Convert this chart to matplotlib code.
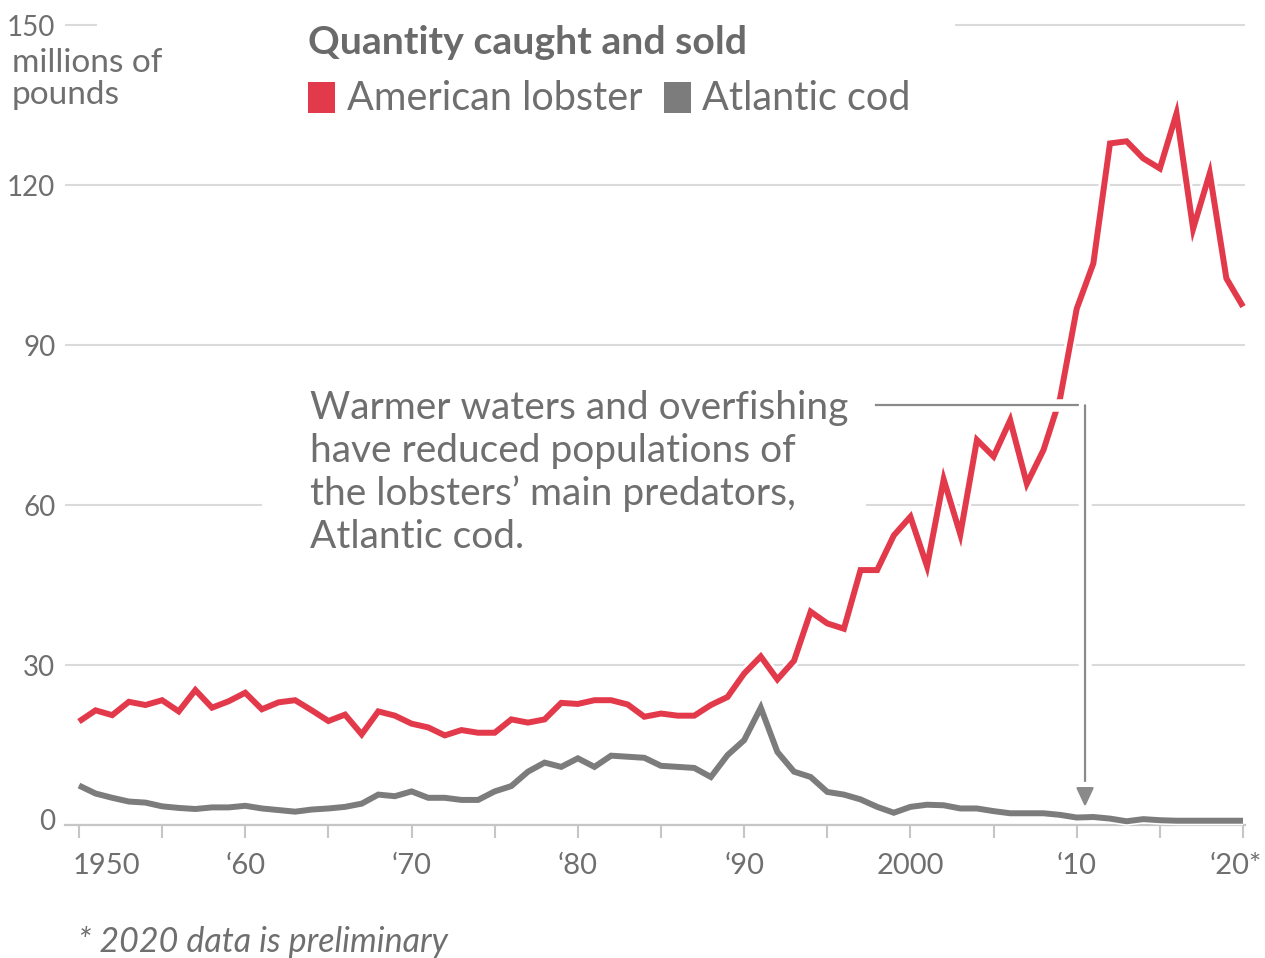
import matplotlib
matplotlib.use("Agg")
import matplotlib.pyplot as plt
import matplotlib.patheffects as pe
from matplotlib.patches import Rectangle
from matplotlib.transforms import ScaledTranslation, blended_transform_factory

plt.rcParams['font.family'] = ['Lato', 'DejaVu Sans']

# ---- data (millions of pounds) ----
years = list(range(1950, 2021))
lobster = [19.4, 21.5, 20.6, 23.1, 22.5, 23.4, 21.3, 25.3, 22.0, 23.2,
           24.8, 21.7, 23.0, 23.4, 21.5, 19.5, 20.7, 17.0, 21.3, 20.5,
           19.0, 18.3, 16.8, 17.8, 17.3, 17.3, 19.8, 19.2, 19.8, 22.9,
           22.7, 23.4, 23.4, 22.6, 20.3, 20.9, 20.5, 20.5, 22.5, 24.0,
           28.4, 31.6, 27.3, 30.8, 40.0, 37.8, 36.8, 47.8, 47.8, 54.3,
           57.8, 48.5, 64.8, 54.5, 72.2, 69.1, 75.9, 64.0, 70.3, 80.0,
           96.8, 105.3, 127.8, 128.2, 125.0, 123.1, 133.4, 111.8, 122.2, 102.5,
           97.2]
cod = [7.4, 5.9, 5.1, 4.4, 4.2, 3.5, 3.2, 3.0, 3.3, 3.3,
       3.6, 3.1, 2.8, 2.5, 2.9, 3.1, 3.4, 4.0, 5.7, 5.4,
       6.3, 5.1, 5.1, 4.7, 4.7, 6.3, 7.3, 10.0, 11.7, 10.9,
       12.5, 10.9, 13.0, 12.8, 12.6, 11.1, 10.9, 10.7, 9.0, 13.1,
       15.9, 22.0, 13.7, 10.0, 9.0, 6.2, 5.7, 4.8, 3.4, 2.3,
       3.4, 3.8, 3.7, 3.1, 3.1, 2.6, 2.2, 2.2, 2.2, 1.9,
       1.4, 1.5, 1.2, 0.7, 1.1, 0.9, 0.8, 0.8, 0.8, 0.8,
       0.8]

y_ticks = [0, 30, 60, 90, 120, 150]
y_tick_labels = ['0', '30', '60', '90', '120', '150']
x_ticks = list(range(1950, 2021, 5))
decades = [1950, 1960, 1970, 1980, 1990, 2000, 2010, 2020]
decade_labels = ['1950', '\u201860', '\u201870', '\u201880', '\u201890', '2000', '\u201810', '\u201820*']

title = 'Quantity caught and sold'
series_names = ['American lobster', 'Atlantic cod']
note_lines = ['Warmer waters and overfishing',
              'have reduced populations of',
              'the lobsters\u2019 main predators,',
              'Atlantic cod.']
footnote = '* 2020 data is preliminary'

# ---- style ----
RED = '#e23a4b'
GRAY = '#7c7c7c'
TEXT = '#6f6f6f'
GRID = '#dadada'
AXIS = '#c6c6c6'
CONN = '#8a8a8a'

W, H = 1265, 958


def fx(x):
    return x / W


def fy(y):
    return 1 - y / H


fig = plt.figure(figsize=(W / 100, H / 100), dpi=100)
ax = fig.add_axes([65 / W, 1 - 825 / H, 1180 / W, (825 - 19.7) / H])
ax.set_xlim(1949.16, 2020.12)
ax.set_ylim(0, 151)

for s in ['top', 'right', 'left']:
    ax.spines[s].set_visible(False)
ax.spines['bottom'].set_color(AXIS)
ax.spines['bottom'].set_linewidth(1.6)

ax.set_axisbelow(True)
ax.set_yticks(y_ticks)
ax.set_yticklabels(y_tick_labels)
ax.tick_params(axis='y', length=0, pad=7, labelsize=20, labelcolor=TEXT)
ax.yaxis.grid(True, color=GRID, linewidth=1.5)
ax.get_yticklabels()[0].set_transform(
    ax.get_yticklabels()[0].get_transform() +
    ScaledTranslation(0, 0.06, fig.dpi_scale_trans))

ax.set_xticks(x_ticks)
ax.tick_params(axis='x', length=9, width=1.5, color=AXIS, direction='out',
               labelbottom=False)

# white panels that interrupt gridlines behind the header and the note
ax.add_patch(Rectangle((fx(97), fy(36)), (955 - 97) / W, 18 / H,
                       transform=fig.transFigure, fc='white', ec='none',
                       zorder=1, clip_on=False))
ax.add_patch(Rectangle((fx(262), fy(560)), (866 - 262) / W, (560 - 385) / H,
                       transform=fig.transFigure, fc='white', ec='none',
                       zorder=1, clip_on=False))


def halo(w):
    return [pe.Stroke(linewidth=w, foreground='white'), pe.Normal()]


ax.plot(years, cod, color=GRAY, lw=4.3, solid_joinstyle='miter',
        solid_capstyle='butt', clip_on=False, zorder=3, path_effects=halo(6.5))
ax.plot(years, lobster, color=RED, lw=4.3, solid_joinstyle='miter',
        solid_capstyle='butt', clip_on=False, zorder=4, path_effects=halo(8))

# connector from the note down to the cod line
x_start, x_arrow, y_conn, y_tip = 1997.9, 2010.5, 78.7, 3.4
ax.plot([x_start, x_arrow, x_arrow], [y_conn, y_conn, y_tip + 3], color=CONN,
        lw=1.6, zorder=6, clip_on=False, solid_joinstyle='miter',
        path_effects=halo(9))
ann = ax.annotate('', xy=(x_arrow, y_tip), xytext=(x_arrow, y_conn),
                  arrowprops=dict(arrowstyle='-|>,head_length=0.58,head_width=0.27',
                                  color=CONN, lw=1.6, mutation_scale=20,
                                  shrinkA=0, shrinkB=0), zorder=7)
ann.arrow_patch.set_path_effects(halo(9))

# x labels
for yr, lab in zip(decades, decade_labels):
    if yr == decades[0]:
        ha, dx = 'left', -6
    elif yr == decades[-1]:
        ha, dx = 'right', 19
    else:
        ha, dx = 'center', 0
    tr = blended_transform_factory(ax.transData, fig.transFigure) + \
        ScaledTranslation(dx / 100, 0, fig.dpi_scale_trans)
    ax.text(yr, fy(866), lab, transform=tr, ha=ha, va='center', size=21,
            color=TEXT, clip_on=False)

# unit label
fig.text(fx(12), fy(63), 'millions of', size=24, color=TEXT, va='center', ha='left')
fig.text(fx(12), fy(95), 'pounds', size=24, color=TEXT, va='center', ha='left')

# header and legend
fig.text(fx(308), fy(43), title, size=28.3, weight='bold', color='#6a6a6a',
         va='center', ha='left')
fig.add_artist(Rectangle((fx(308), fy(113)), 27 / W, 31 / H,
                         transform=fig.transFigure, fc=RED, ec='none'))
fig.text(fx(347), fy(98), series_names[0], size=28.5, color=TEXT, va='center', ha='left')
fig.add_artist(Rectangle((fx(664), fy(113)), 27 / W, 31 / H,
                         transform=fig.transFigure, fc=GRAY, ec='none'))
fig.text(fx(702), fy(98), series_names[1], size=28.5, color=TEXT, va='center', ha='left')

# note
for i, line in enumerate(note_lines):
    fig.text(fx(310), fy(408 + 43 * i), line, size=28, color=TEXT,
             va='center', ha='left')

fig.text(fx(78), fy(942), footnote, size=24.5, style='italic', color=TEXT,
         va='center', ha='left')

fig.savefig('out.png', dpi=100, facecolor='white')
